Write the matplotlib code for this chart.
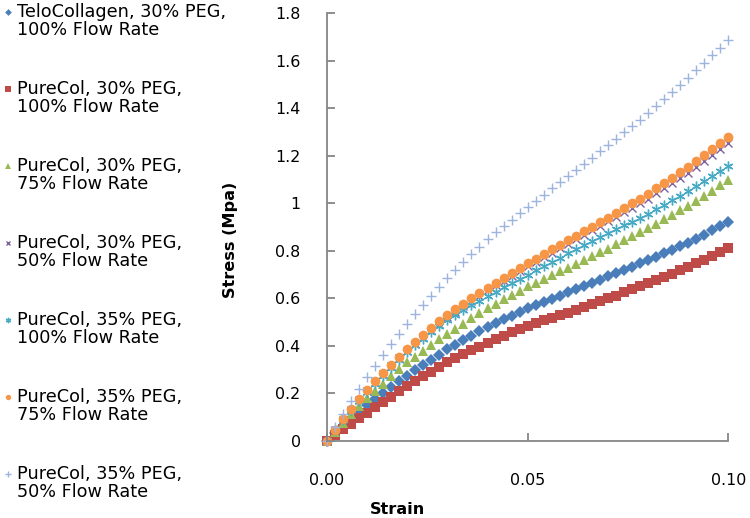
import matplotlib
matplotlib.use("Agg")
import matplotlib.pyplot as plt

plt.rcParams['font.family'] = ['DejaVu Sans']

strain = [0.000, 0.002, 0.004, 0.006, 0.008, 0.010, 0.012, 0.014, 0.016, 0.018,
          0.020, 0.022, 0.024, 0.026, 0.028, 0.030, 0.032, 0.034, 0.036, 0.038,
          0.040, 0.042, 0.044, 0.046, 0.048, 0.050, 0.052, 0.054, 0.056, 0.058,
          0.060, 0.062, 0.064, 0.066, 0.068, 0.070, 0.072, 0.074, 0.076, 0.078,
          0.080, 0.082, 0.084, 0.086, 0.088, 0.090, 0.092, 0.094, 0.096, 0.098,
          0.100]

telo_30_100 = [0, .032, .063, .093, .122, .15, .176, .201, .226, .251, .275,
               .297, .319, .341, .363, .385, .404, .423, .442, .461, .48,
               .496, .512, .527, .543, .558, .571, .585, .598, .612, .625,
               .639, .652, .666, .679, .693, .706, .720, .733, .747, .76,
               .775, .790, .805, .820, .835, .852, .869, .886, .903, .92]

pure_30_100 = [0, .025, .049, .072, .095, .118, .141, .164, .186, .208, .23,
               .251, .271, .291, .311, .33, .347, .364, .381, .397, .413,
               .428, .443, .457, .471, .485, .496, .507, .518, .529, .54,
               .552, .564, .576, .588, .60, .612, .625, .638, .650, .663,
               .677, .690, .704, .718, .732, .747, .763, .779, .795, .811]

pure_30_75 = [0, .039, .076, .112, .147, .18, .211, .241, .271, .301, .33,
              .355, .379, .403, .427, .45, .472, .494, .516, .538, .56,
              .578, .596, .614, .632, .65, .666, .682, .698, .714, .73,
              .746, .762, .778, .794, .81, .827, .844, .861, .878, .895,
              .914, .933, .952, .971, .99, 1.011, 1.033, 1.054, 1.076, 1.098]

pure_30_50 = [0, .045, .089, .131, .171, .21, .246, .281, .315, .348, .38,
              .409, .437, .465, .493, .52, .543, .566, .589, .612, .635,
              .655, .675, .695, .715, .735, .754, .773, .792, .811, .83,
              .849, .868, .887, .906, .925, .944, .963, .982, 1.001, 1.02,
              1.042, 1.064, 1.086, 1.108, 1.13, 1.155, 1.180, 1.205, 1.230, 1.255]

pure_35_100 = [0, .044, .087, .128, .167, .205, .240, .274, .308, .342, .375,
               .403, .430, .457, .484, .51, .530, .550, .570, .590, .61,
               .628, .646, .664, .682, .70, .718, .736, .754, .772, .79,
               .807, .824, .841, .858, .875, .891, .907, .923, .939, .955,
               .975, .994, 1.014, 1.033, 1.053, 1.074, 1.095, 1.116, 1.138, 1.159]

pure_35_75 = [0, .046, .091, .134, .175, .215, .251, .286, .320, .354, .387,
              .417, .446, .475, .504, .532, .555, .578, .600, .623, .645,
              .666, .686, .707, .727, .748, .767, .787, .806, .826, .845,
              .864, .883, .902, .921, .94, .960, .980, 1.000, 1.020, 1.04,
              1.063, 1.086, 1.109, 1.132, 1.155, 1.180, 1.205, 1.230, 1.255, 1.28]

pure_35_50 = [0, .058, .114, .168, .220, .27, .317, .363, .408, .452, .494,
              .534, .573, .611, .648, .685, .719, .753, .786, .818, .85,
              .878, .905, .932, .959, .985, 1.011, 1.037, 1.063, 1.089, 1.115,
              1.141, 1.167, 1.193, 1.219, 1.245, 1.272, 1.299, 1.326, 1.353, 1.38,
              1.41, 1.44, 1.47, 1.50, 1.53, 1.561, 1.592, 1.624, 1.655, 1.687]

labels = ["TeloCollagen, 30% PEG,\n100% Flow Rate",
          "PureCol, 30% PEG,\n100% Flow Rate",
          "PureCol, 30% PEG,\n75% Flow Rate",
          "PureCol, 30% PEG,\n50% Flow Rate",
          "PureCol, 35% PEG,\n100% Flow Rate",
          "PureCol, 35% PEG,\n75% Flow Rate",
          "PureCol, 35% PEG,\n50% Flow Rate"]

series = [telo_30_100, pure_30_100, pure_30_75, pure_30_50,
          pure_35_100, pure_35_75, pure_35_50]

# marker style per series: (marker, colour, size, edge width)
styles = [("D", "#4A7EBB", 6.2, 0.0),
          ("s", "#BE4B48", 6.6, 0.0),
          ("^", "#98B954", 7.0, 0.0),
          ("x", "#7D60A0", 5.5, 1.0),
          ((6, 2, 0), "#46AAC5", 7.0, 1.0),
          ("o", "#F79646", 7.0, 0.0),
          ("+", "#9DB3E0", 7.5, 1.0)]

fig = plt.figure(figsize=(7.5, 5.18), dpi=100)
ax = fig.add_axes([0.436, 0.149, 0.535, 0.825])

for ys, (m, c, ms, mew) in zip(series, styles):
    ax.plot(strain, ys, linestyle="none", marker=m, color=c, markersize=ms,
            markeredgewidth=mew, clip_on=False)

ax.set_xlim(0, 0.10)
ax.set_ylim(0, 1.8)
ax.set_xticks([0.0, 0.05, 0.10])
ax.set_xticklabels(["0.00", "0.05", "0.10"])
ax.set_yticks([0, 0.2, 0.4, 0.6, 0.8, 1.0, 1.2, 1.4, 1.6, 1.8])
ax.set_yticklabels(["0", "0.2", "0.4", "0.6", "0.8", "1", "1.2", "1.4", "1.6", "1.8"])
for side in ["top", "right"]:
    ax.spines[side].set_visible(False)
for side in ["left", "bottom"]:
    ax.spines[side].set_color("#868686")
    ax.spines[side].set_linewidth(1.3)
ax.tick_params(axis="both", direction="in", length=6, width=1.3, color="#868686",
               labelsize=11.4, labelcolor="black")
ax.tick_params(axis="y", pad=19)
ax.tick_params(axis="x", pad=23)

fig.text(398 / 750, 1 - 514 / 518, "Strain", ha="center", va="baseline",
         fontsize=11.6, fontweight="bold")
fig.text(231 / 750, 1 - 240 / 518, "Stress (Mpa)", ha="center", va="center",
         rotation=90, fontsize=11.6, fontweight="bold")

# hand-made legend on the left
for i, (lab, (m, c, ms, mew)) in enumerate(zip(labels, styles)):
    ytop = 3 + 77 * i
    ymark = 12 + 77 * i
    fig.text(17 / 750, 1 - ytop / 518, lab, ha="left", va="top",
             fontsize=12.7, linespacing=1.0)
    fig.add_artist(plt.Line2D([8 / 750], [1 - ymark / 518], linestyle="none",
                              marker=m, color=c, markersize=ms * 0.55,
                              markeredgewidth=mew,
                              transform=fig.transFigure))

fig.savefig("out.png", dpi=100)
